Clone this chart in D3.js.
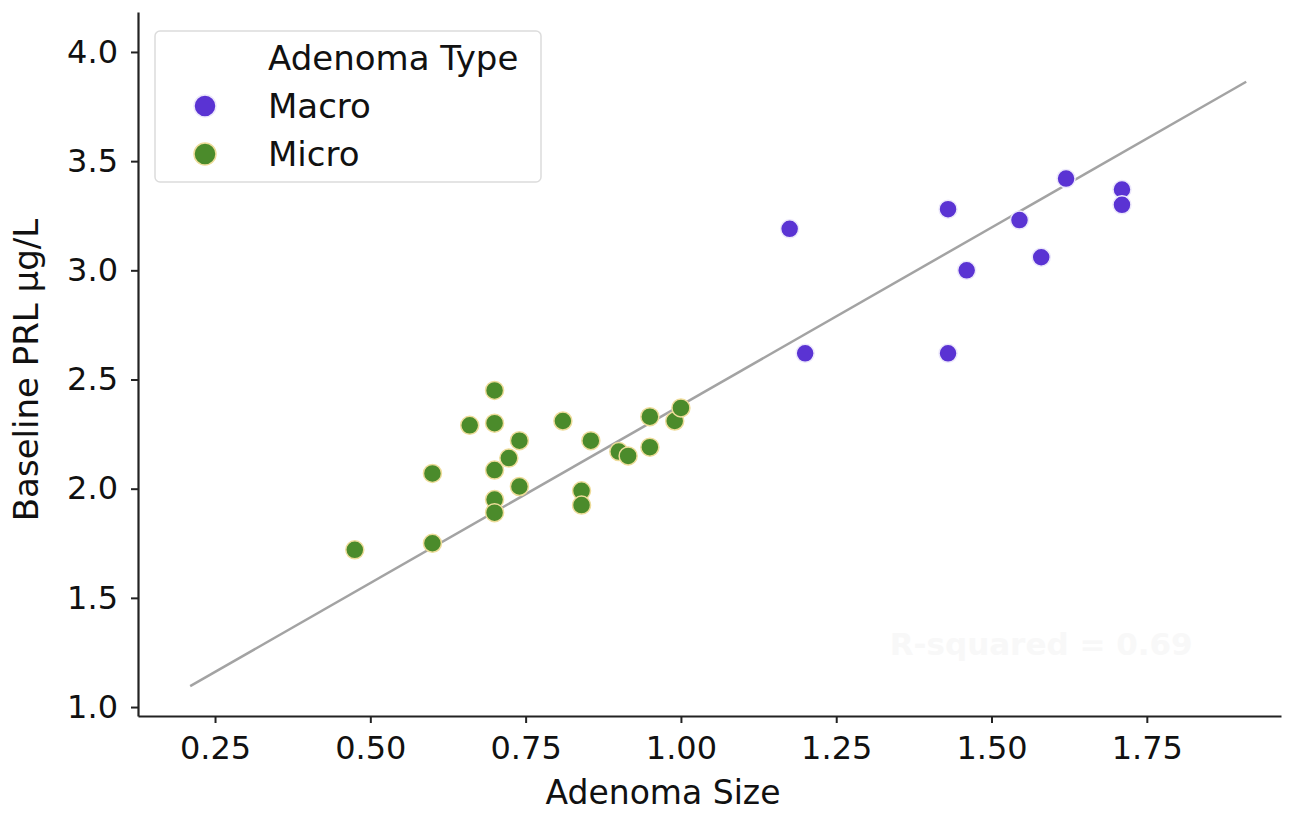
<!DOCTYPE html>
<html><head><meta charset="utf-8">
<script src="https://cdn.jsdelivr.net/npm/d3@7/dist/d3.min.js"></script>
<style>body{margin:0;background:#fff}svg{display:block;font-family:"DejaVu Sans",sans-serif}</style>
</head><body>
<svg id="c" width="1298" height="813"></svg>
<script>
const macroX = [1.175, 1.20, 1.43, 1.43, 1.46, 1.545, 1.58, 1.62, 1.71, 1.71];
const macroY = [3.19, 2.62, 3.28, 2.62, 3.00, 3.23, 3.06, 3.42, 3.37, 3.30];
const microX = [0.475, 0.60, 0.60, 0.66, 0.70, 0.70, 0.70, 0.70, 0.70, 0.723, 0.74, 0.74, 0.81, 0.84, 0.84, 0.855, 0.90, 0.915, 0.95, 0.95, 0.99, 1.00];
const microY = [1.72, 1.75, 2.07, 2.29, 2.45, 2.30, 2.085, 1.95, 1.89, 2.14, 2.22, 2.01, 2.31, 1.99, 1.925, 2.22, 2.17, 2.15, 2.33, 2.19, 2.31, 2.37];
const xTicks = [0.25, 0.50, 0.75, 1.00, 1.25, 1.50, 1.75];
const yTicks = [1.0, 1.5, 2.0, 2.5, 3.0, 3.5, 4.0];
const fitX = [0.21, 1.91];
const slope = 1.628, intercept = 0.754;
const rSquaredText = "R-squared = 0.69";

const svg = d3.select("#c");
const x = d3.scaleLinear().domain([0.126, 1.966]).range([138, 1281]);
const y = d3.scaleLinear().domain([0.959, 4.183]).range([716, 12]);

// faint R-squared annotation
svg.append("text").attr("x", x(1.58)).attr("y", y(1.24)).attr("text-anchor", "middle")
  .attr("font-size", 31).attr("font-weight", "bold").attr("fill", "#f8f8f8").text(rSquaredText);

// regression line
svg.append("line")
  .attr("x1", x(fitX[0])).attr("y1", y(intercept + slope * fitX[0]))
  .attr("x2", x(fitX[1])).attr("y2", y(intercept + slope * fitX[1]))
  .attr("stroke", "#a3a3a3").attr("stroke-width", 2.5);

const micro = microX.map((v, i) => ({x: v, y: microY[i]}));
const macro = macroX.map((v, i) => ({x: v, y: macroY[i]}));

svg.append("g").selectAll("circle").data(micro).join("circle")
  .attr("cx", d => x(d.x)).attr("cy", d => y(d.y)).attr("r", 9)
  .attr("fill", "#4b8b2b").attr("stroke", "#eedc9a").attr("stroke-width", 1.5);
svg.append("g").selectAll("circle").data(macro).join("circle")
  .attr("cx", d => x(d.x)).attr("cy", d => y(d.y)).attr("r", 9)
  .attr("fill", "#5a33d3").attr("stroke", "#ece8fb").attr("stroke-width", 1.5);

// axes
const xAxis = svg.append("g").attr("transform", "translate(0,716)")
  .call(d3.axisBottom(x).tickValues(xTicks).tickFormat(d3.format(".2f")).tickSize(7).tickPadding(13).tickSizeOuter(0));
const yAxis = svg.append("g").attr("transform", "translate(138,0)")
  .call(d3.axisLeft(y).tickValues(yTicks).tickFormat(d3.format(".1f")).tickSize(7).tickPadding(13).tickSizeOuter(0));
[xAxis, yAxis].forEach(a => {
  a.attr("font-size", null).attr("font-family", null);
  a.select(".domain").attr("stroke", "#222").attr("stroke-width", 2.2);
  a.selectAll(".tick line").attr("stroke", "#222").attr("stroke-width", 2);
  a.selectAll(".tick text").style("font-size", "32px").attr("fill", "#111");
});

svg.append("text").attr("x", 663).attr("y", 804).attr("text-anchor", "middle")
  .style("font-size", "33px").attr("fill", "#111").text("Adenoma Size");
svg.append("text").attr("transform", "translate(38,370) rotate(-90)").attr("text-anchor", "middle")
  .style("font-size", "34px").attr("fill", "#111").text("Baseline PRL μg/L");

// legend
const lg = svg.append("g");
lg.append("rect").attr("x", 155).attr("y", 31).attr("width", 386).attr("height", 151).attr("rx", 5)
  .attr("fill", "#fff").attr("fill-opacity", 0.85).attr("stroke", "#dcdcdc").attr("stroke-width", 1.5);
lg.append("text").attr("x", 268).attr("y", 70).style("font-size", "34px").attr("fill", "#111").text("Adenoma Type");
const items = [{name: "Macro", fill: "#5a33d3", stroke: "#ece8fb"}, {name: "Micro", fill: "#4b8b2b", stroke: "#eedc9a"}];
items.forEach((it, i) => {
  const cy = 106 + i * 48;
  lg.append("circle").attr("cx", 205).attr("cy", cy).attr("r", 11).attr("fill", it.fill).attr("stroke", it.stroke).attr("stroke-width", 1.5);
  lg.append("text").attr("x", 268).attr("y", cy + 12).style("font-size", "34px").attr("fill", "#111").text(it.name);
});
</script>
</body></html>
